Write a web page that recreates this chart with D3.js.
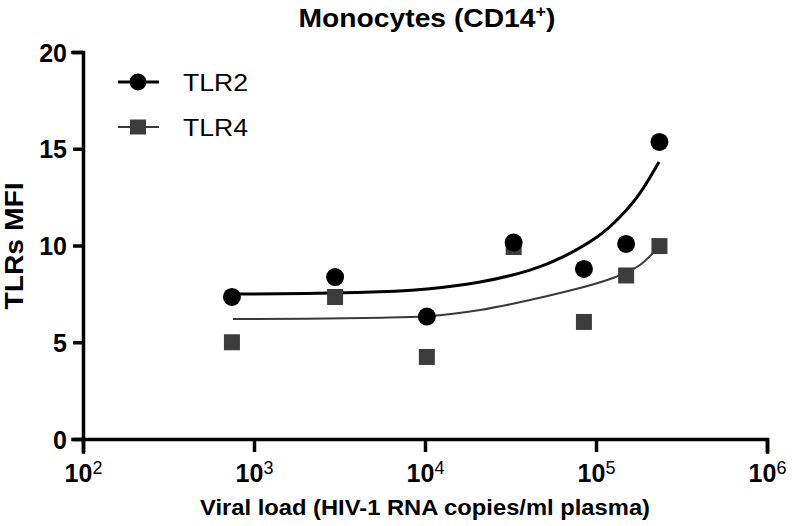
<!DOCTYPE html>
<html>
<head>
<meta charset="utf-8">
<script src="https://cdn.jsdelivr.net/npm/d3@7"></script>
<style>
  body { margin: 0; background: #fff; }
  svg { font-family: Arial, "Liberation Sans", Helvetica, sans-serif; }
</style>
</head>
<body>
<svg id="chart" width="792" height="526"></svg>
<script>
// values
const viralLoad = [743, 2980, 10250, 33000, 85000, 150000, 235000];
const tlr2 = [7.34, 8.37, 6.33, 10.15, 8.79, 10.08, 15.35];
const tlr4 = [5.0, 7.34, 4.24, 9.92, 6.05, 8.45, 9.97];

// fitted curves
const fit2X = [743, 2000, 4000, 6680, 10280, 21000, 41100, 64100, 101400, 138000, 180700, 233500];
const fit2Y = [7.49, 7.52, 7.57, 7.64, 7.75, 8.11, 8.73, 9.41, 10.44, 11.47, 12.71, 14.32];
const fit4X = [753, 2000, 5610, 10280, 21000, 41100, 80500, 125600, 180700, 236600];
const fit4Y = [6.20, 6.22, 6.27, 6.34, 6.67, 7.18, 7.80, 8.32, 8.99, 10.03];

const xTicks = [1e2, 1e3, 1e4, 1e5, 1e6];
const yTicks = [0, 5, 10, 15, 20];
const seriesNames = ["TLR2", "TLR4"];

const margin = { top: 52, right: 25, bottom: 87, left: 83 };
const width = 792, height = 526;

const svg = d3.select("#chart");

const x = d3.scaleLog()
  .domain([1e2, 1e6])
  .range([margin.left, width - margin.right]);
const y = d3.scaleLinear()
  .domain([0, 20])
  .range([height - margin.bottom, margin.top]);

// axes
const xAxis = svg.append("g")
  .attr("transform", `translate(0,${height - margin.bottom})`)
  .call(d3.axisBottom(x).tickValues(xTicks).tickSizeOuter(0).tickSize(13).tickFormat(""));
const yAxis = svg.append("g")
  .attr("transform", `translate(${margin.left},0)`)
  .call(d3.axisLeft(y).tickValues(yTicks).tickSizeOuter(0).tickSize(10).tickFormat(""));

[xAxis, yAxis].forEach(g => {
  g.selectAll("path, line").attr("stroke", "#000").attr("stroke-width", 3.5);
  g.select(".domain").attr("stroke-linecap", "square");
});

yAxis.selectAll(".tick").append("text")
  .attr("x", -16)
  .attr("dy", "0.36em")
  .attr("text-anchor", "end")
  .attr("fill", "#000")
  .style("font-size", "25px")
  .style("font-weight", "bold")
  .text(d => d);

const xLabels = xAxis.selectAll(".tick").append("text")
  .attr("y", 43)
  .attr("text-anchor", "middle")
  .attr("fill", "#000")
  .style("font-size", "25px")
  .style("font-weight", "bold");
xLabels.append("tspan").text("10");
xLabels.append("tspan")
  .attr("dy", -8)
  .style("font-size", "18px")
  .style("font-weight", "normal")
  .text(d => Math.round(Math.log10(d)));

// fit curves
const line = d3.line()
  .x(d => x(d[0]))
  .y(d => y(d[1]))
  .curve(d3.curveNatural);

svg.append("path")
  .attr("d", line(d3.zip(fit4X, fit4Y)))
  .attr("fill", "none")
  .attr("stroke", "#3a3a3a")
  .attr("stroke-width", 2);

svg.append("path")
  .attr("d", line(d3.zip(fit2X, fit2Y)))
  .attr("fill", "none")
  .attr("stroke", "#000")
  .attr("stroke-width", 3);

// markers
const sq = 16;
svg.append("g").selectAll("rect")
  .data(d3.zip(viralLoad, tlr4))
  .join("rect")
  .attr("x", d => x(d[0]) - sq / 2)
  .attr("y", d => y(d[1]) - sq / 2)
  .attr("width", sq)
  .attr("height", sq)
  .attr("fill", "#3c3c3c");

svg.append("g").selectAll("circle")
  .data(d3.zip(viralLoad, tlr2))
  .join("circle")
  .attr("cx", d => x(d[0]))
  .attr("cy", d => y(d[1]))
  .attr("r", 9)
  .attr("fill", "#000");

// legend
const legend = svg.append("g");
seriesNames.forEach((name, i) => {
  const ly = 82 + i * 45;
  const dark = i === 0 ? "#000" : "#3a3a3a";
  legend.append("line")
    .attr("x1", 118).attr("x2", 159)
    .attr("y1", ly).attr("y2", ly)
    .attr("stroke", dark)
    .attr("stroke-width", i === 0 ? 3 : 2);
  if (i === 0) {
    legend.append("circle").attr("cx", 138).attr("cy", ly).attr("r", 8.5).attr("fill", "#000");
  } else {
    legend.append("rect").attr("x", 130).attr("y", ly - 7.5).attr("width", 16).attr("height", 15).attr("fill", "#3c3c3c");
  }
  legend.append("text")
    .attr("x", 183)
    .attr("y", ly + 9)
    .attr("textLength", 65)
    .attr("lengthAdjust", "spacingAndGlyphs")
    .style("font-size", "24px")
    .attr("fill", "#000")
    .text(name);
});

// title and axis titles
const title = svg.append("text")
  .attr("x", 427)
  .attr("y", 27)
  .attr("text-anchor", "middle")
  .attr("textLength", 257)
  .attr("lengthAdjust", "spacingAndGlyphs")
  .style("font-size", "25px")
  .style("font-weight", "bold")
  .text("Monocytes (CD14");
title.append("tspan").attr("dy", -10).style("font-size", "16px").text("+");
title.append("tspan").attr("dy", 10).text(")");

svg.append("text")
  .attr("x", (margin.left + width - margin.right) / 2)
  .attr("y", 515)
  .attr("text-anchor", "middle")
  .attr("textLength", 450)
  .attr("lengthAdjust", "spacingAndGlyphs")
  .style("font-size", "22px")
  .style("font-weight", "bold")
  .text("Viral load (HIV-1 RNA copies/ml plasma)");

svg.append("text")
  .attr("transform", `translate(23,${246}) rotate(-90)`)
  .attr("text-anchor", "middle")
  .attr("textLength", 127)
  .attr("lengthAdjust", "spacingAndGlyphs")
  .style("font-size", "26px")
  .style("font-weight", "bold")
  .text("TLRs MFI");
</script>
</body>
</html>
